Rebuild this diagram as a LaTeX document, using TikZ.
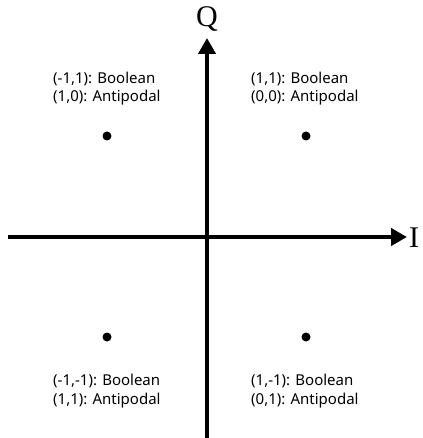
\documentclass[tikz,border=0pt]{standalone}
\usepackage{fontspec}
\setmainfont{Liberation Serif}
\newfontfamily\lblfont{Noto Sans}
\usetikzlibrary{arrows.meta}
\begin{document}
\begin{tikzpicture}[x=1pt,y=-1pt,
  axis/.style={line width=4.5pt,-{Triangle[length=16pt,width=17pt]}},
  dot/.style={circle,fill=black,inner sep=0pt,minimum size=9pt},
  lbl/.style={font=\lblfont\fontsize{15}{18.5}\selectfont,align=left,anchor=base west,inner sep=0pt},
  axlbl/.style={font=\fontsize{30}{30}\selectfont,inner sep=0pt}]
\useasboundingbox (0,0) rectangle (422,438);
\coordinate (xl) at (8,237);
\coordinate (xr) at (407,237);
\coordinate (yb) at (207,438);
\coordinate (yt) at (207,38);
\draw[axis] (xl) -- (xr);
\draw[axis] (yb) -- (yt);
\node[axlbl] (Q) at (207,19) {Q};
\node[axlbl,anchor=west] (I) at (409,238) {I};
\node[dot] (d1) at (107,136) {};
\node[dot] (d2) at (306,136) {};
\node[dot] (d3) at (107,337) {};
\node[dot] (d4) at (306,337) {};
\node[lbl] (t1) at (53,102) {(-1,1): Boolean\\(1,0): Antipodal};
\node[lbl] (t2) at (251,102) {(1,1): Boolean\\(0,0): Antipodal};
\node[lbl] (t3) at (53,404) {(-1,-1): Boolean\\(1,1): Antipodal};
\node[lbl] (t4) at (251,404) {(1,-1): Boolean\\(0,1): Antipodal};
\end{tikzpicture}
\end{document}
